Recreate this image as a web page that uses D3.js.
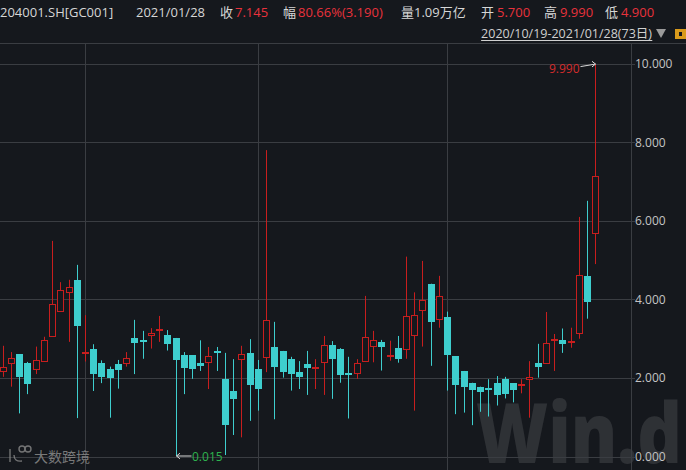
<!DOCTYPE html>
<html><head><meta charset="utf-8">
<script src="https://cdn.jsdelivr.net/npm/d3@7"></script>
<style>
html,body{margin:0;padding:0;background:#15181d;overflow:hidden}
svg{display:block}
text{font-family:"Open Sans","Noto Sans CJK SC",sans-serif}
</style></head>
<body>
<svg id="c" width="686" height="470"></svg>
<script>
// ---- data (trading days 2020/10/19 - 2021/01/28) ----
const openV  = [2.19,2.39,2.61,2.38,2.24,2.43,3.08,3.71,4.20,4.50,2.65,2.74,2.38,2.23,2.36,2.39,3.03,2.98,3.09,3.25,3.10,3.02,2.58,2.58,2.39,2.40,2.685,1.98,1.68,2.49,2.64,2.22,2.54,2.79,2.69,2.48,2.15,2.36,2.28,2.40,2.84,2.74,2.14,2.14,2.43,2.82,2.92,2.575,2.77,2.75,3.09,3.72,4.39,3.50,3.55,2.55,2.18,1.87,1.77,1.75,1.87,1.98,1.87,1.845,1.98,2.39,2.39,2.98,2.97,2.92,3.14,4.60,5.700];
const highV  = [2.82,2.66,2.61,2.41,2.80,3.05,5.49,4.44,4.50,4.88,3.60,2.86,2.45,2.29,2.46,2.66,3.48,3.20,3.27,3.58,3.22,3.02,2.66,2.58,2.96,2.79,2.79,2.64,2.48,2.82,2.99,2.46,7.80,3.43,2.69,2.54,2.43,2.69,2.48,3.07,2.94,2.76,2.54,2.48,4.09,3.20,2.97,2.95,3.07,5.09,4.18,4.98,4.40,4.60,3.69,2.56,2.18,1.88,1.78,1.97,2.05,2.03,1.87,1.97,2.43,2.87,3.68,3.12,3.26,3.28,6.10,6.51,9.990];
const lowV   = [2.03,1.78,1.10,1.59,2.10,2.43,3.08,3.69,2.92,0.98,2.42,1.67,1.87,0.99,1.73,2.29,2.10,2.49,2.75,2.92,2.70,0.015,1.59,1.98,2.18,1.72,2.18,0.04,0.55,0.49,0.91,1.17,2.15,0.95,2.01,1.68,1.72,1.57,1.72,1.57,1.47,1.88,0.97,1.98,2.41,2.40,2.19,2.44,2.39,2.49,1.17,2.80,2.31,3.28,1.68,1.08,1.12,0.80,1.14,1.02,1.30,1.48,1.38,1.61,0.99,2.01,2.39,2.18,2.64,2.77,3.00,3.51,4.900];
const closeV = [2.29,2.50,2.03,1.85,2.45,2.96,3.88,4.24,4.32,3.33,2.66,2.09,2.03,2.00,2.21,2.50,2.90,2.92,3.15,3.26,2.86,2.47,2.26,2.24,2.31,2.56,2.68,0.80,1.47,2.61,1.83,1.73,3.47,2.29,2.16,2.10,2.03,2.26,2.29,2.84,2.48,2.08,2.135,2.38,3.04,2.96,2.79,2.58,2.49,3.57,3.60,3.98,3.43,4.08,2.59,1.81,1.76,1.69,1.65,1.745,1.57,1.60,1.70,1.85,2.03,2.29,2.88,3.00,2.87,2.93,4.61,3.94,7.145];
const monthStarts = [10, 31, 54];           // 2020/11/02, 2020/12/01, 2021/01/04
const yTicks = [0, 2, 4, 6, 8, 10];
const headerItems = [
  {t:"204001.SH[GC001]", c:"#d6d6d6", x:0},
  {t:"2021/01/28", c:"#d6d6d6", x:136},
  {t:"收", c:"#d6d6d6", x:220},
  {t:"7.145", c:"#e8323c", x:235},
  {t:"幅", c:"#d6d6d6", x:283},
  {t:"80.66%(3.190)", c:"#e8323c", x:298},
  {t:"量1.09万亿", c:"#d6d6d6", x:401},
  {t:"开", c:"#d6d6d6", x:481},
  {t:"5.700", c:"#e8323c", x:497},
  {t:"高", c:"#d6d6d6", x:544},
  {t:"9.990", c:"#e8323c", x:560},
  {t:"低", c:"#d6d6d6", x:605},
  {t:"4.900", c:"#e8323c", x:621}
];
const rangeLabel = "2020/10/19-2021/01/28(73日)";

// ---- setup ----
const svg = d3.select("#c");
const W = 686, H = 470;
const plotRight = 631, plotTop = 43;
const RED = "#c81e1e", CYAN = "#3ecece", GRID = "#3a3d42", BG = "#15181d";

const n = closeV.length;
const x = d3.scaleLinear().domain([0, n - 1]).range([2.7, 595.3]);
const y = d3.scaleLinear().domain([0, 10]).range([456.6, 63.7]);

// watermark "Win.d"
svg.append("text").attr("x", 476).attr("y", 463)
  .attr("font-family", "Lato, 'DejaVu Sans', sans-serif")
  .attr("font-weight", 900).attr("font-size", 84)
  .attr("fill", "#ffffff").attr("fill-opacity", 0.11)
  .attr("textLength", 206).attr("lengthAdjust", "spacingAndGlyphs")
  .text("Win.d");

// grid
const g = svg.append("g");
g.append("line").attr("x1", 0).attr("x2", W).attr("y1", plotTop + 0.5).attr("y2", plotTop + 0.5).attr("stroke", GRID);
g.selectAll(".hg").data(yTicks).join("line")
  .attr("x1", 0).attr("x2", plotRight + 4)
  .attr("y1", d => Math.round(y(d)) + 0.5).attr("y2", d => Math.round(y(d)) + 0.5)
  .attr("stroke", GRID);
g.selectAll(".vg").data(monthStarts).join("line")
  .attr("x1", d => Math.round(x(d)) + 0.5).attr("x2", d => Math.round(x(d)) + 0.5)
  .attr("y1", plotTop).attr("y2", H)
  .attr("stroke", GRID);
g.append("line").attr("x1", plotRight + 0.5).attr("x2", plotRight + 0.5).attr("y1", plotTop).attr("y2", H).attr("stroke", GRID);

// y axis labels
const yAxis = d3.axisRight(y).tickValues(yTicks).tickFormat(d3.format(".3f")).tickSize(0).tickPadding(0);
const ya = svg.append("g").attr("transform", `translate(${plotRight + 4},0)`).call(yAxis);
ya.select(".domain").remove();
ya.selectAll("text").attr("fill", "#c4c4c4").attr("font-size", 12)
  .attr("font-family", "'Open Sans', sans-serif").attr("dx", 0);

// candles
const data = d3.range(n).map(i => ({i, o: openV[i], h: highV[i], l: lowV[i], c: closeV[i], up: closeV[i] >= openV[i]}));
const cg = svg.append("g");
data.forEach(d => {
  const cx = Math.round(x(d.i));
  const wx = cx + 0.5;
  const yt = y(Math.max(d.o, d.c)), yb = y(Math.min(d.o, d.c));
  const yh = y(d.h), yl = y(d.l);
  if (d.up) {
    const top = Math.round(yt) + 0.5;
    let bot = Math.round(yb) + 0.5;
    if (bot - top < 1) bot = top + 1;
    cg.append("line").attr("x1", wx).attr("x2", wx).attr("y1", yh).attr("y2", top).attr("stroke", RED);
    cg.append("line").attr("x1", wx).attr("x2", wx).attr("y1", bot).attr("y2", yl).attr("stroke", RED);
    cg.append("rect").attr("x", cx - 3 + 0.5).attr("y", top).attr("width", 6).attr("height", bot - top)
      .attr("fill", BG).attr("stroke", RED);
  } else {
    cg.append("line").attr("x1", wx).attr("x2", wx).attr("y1", yh).attr("y2", yl).attr("stroke", CYAN);
    const top = Math.round(yt);
    const h = Math.max(2, Math.round(yb) - top);
    cg.append("rect").attr("x", cx - 3).attr("y", top).attr("width", 7).attr("height", h).attr("fill", CYAN);
  }
});

// max / min markers
const maxI = d3.maxIndex(highV), minI = d3.minIndex(lowV);
const mx = Math.round(x(maxI)) + 0.5, my = y(highV[maxI]);
svg.append("path").attr("d", `M${mx - 15},${my + 2.5} L${mx},${my} M${mx - 3.5},${my - 2.8} L${mx},${my} L${mx - 3.5},${my + 2.8}`)
  .attr("stroke", "#d8d8d8").attr("fill", "none").attr("stroke-width", 1);
svg.append("text").attr("x", mx - 16).attr("y", my + 8.5).attr("text-anchor", "end")
  .attr("font-size", 12).attr("fill", "#d42c2c").text(d3.format(".3f")(highV[maxI]));
const nx = Math.round(x(minI)) + 0.5, ny = y(lowV[minI]);
svg.append("path").attr("d", `M${nx + 15},${ny} L${nx},${ny} M${nx + 3.5},${ny - 2.8} L${nx},${ny} L${nx + 3.5},${ny + 2.8}`)
  .attr("stroke", "#d8d8d8").attr("fill", "none").attr("stroke-width", 1);
svg.append("text").attr("x", nx + 15.5).attr("y", ny + 4.5)
  .attr("font-size", 12).attr("fill", "#2eb34e").text(d3.format(".3f")(lowV[minI]));

// header
const hg = svg.append("g");
hg.selectAll("text").data(headerItems).join("text")
  .attr("x", d => d.x).attr("y", 17).attr("font-size", 13).attr("fill", d => d.c).text(d => d.t);
const rl = svg.append("text").attr("x", 652).attr("y", 38).attr("text-anchor", "end")
  .attr("font-size", 12.5).attr("fill", "#d0d0d0").text(rangeLabel);
const bb = rl.node().getBBox();
svg.append("line").attr("x1", bb.x).attr("x2", bb.x + bb.width).attr("y1", 40.5).attr("y2", 40.5).attr("stroke", "#d0d0d0");
svg.append("path").attr("d", "M656,29 L666,29 L661,38 Z").attr("fill", "#9a9a9a");
svg.append("rect").attr("x", 675).attr("y", 29).attr("width", 11).attr("height", 10).attr("fill", "#d99a1c");
svg.append("rect").attr("x", 679).attr("y", 32).attr("width", 3).attr("height", 4).attr("fill", "#15181d");

// bottom-left watermark
const wm = svg.append("g").attr("fill", "none").attr("stroke", "#8a8a8a").attr("stroke-width", 1.4).attr("opacity", 0.8);
wm.append("path").attr("d", "M10,449 L10,462 M14,455 Q14,462 22,461");
wm.append("circle").attr("cx", 22).attr("cy", 449).attr("r", 3);
wm.append("circle").attr("cx", 28).attr("cy", 449).attr("r", 3);
svg.append("text").attr("x", 34).attr("y", 462).attr("font-size", 14)
  .attr("font-family", "'Noto Sans CJK SC', sans-serif").attr("fill", "#8a8a8a").attr("opacity", 0.85).text("大数跨境");
</script>
</body></html>
